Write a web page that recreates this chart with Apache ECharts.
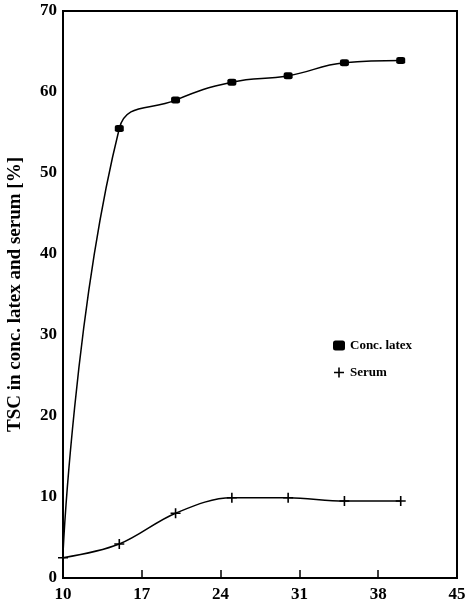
<!DOCTYPE html>
<html>
<head>
<meta charset="utf-8">
<script src="https://cdn.jsdelivr.net/npm/echarts@6/dist/echarts.min.js"></script>
<style>
  html, body { margin: 0; padding: 0; background: #fff; }
  #chart { width: 468px; height: 614px; }
</style>
</head>
<body>
<div id="chart"></div>
<script>
// time axis values
var days = [10, 15, 20, 25, 30, 35, 40]
// TSC values
var latex = [3, 55.5, 59.0, 61.2, 62.0, 63.6, 63.9]
var serum = [2.5, 4.2, 8.0, 9.9, 9.9, 9.5, 9.5]

var font = 'Liberation Serif'
var plus = 'path://M4.2,0h1.6v10h-1.6z M0,4.2h10v1.6h-10z'

function pairs(ys) {
    return days.map(function (d, i) { return [d, ys[i]] })
}

var chart = echarts.init(document.getElementById('chart'))

var latexData = pairs(latex)
// first point sits on the axis, no marker there
latexData[0] = { value: latexData[0], symbol: 'none' }

chart.setOption({
    animation: false,
    grid: {
        left: 63, right: 11, top: 11, bottom: 36,
        outerBoundsMode: 'none',
        show: true, borderColor: '#000', borderWidth: 2
    },
    legend: {
        orient: 'vertical',
        left: 328,
        top: 334,
        itemGap: 14,
        itemWidth: 12,
        itemHeight: 10,
        textStyle: { fontFamily: font, fontWeight: 'bold', fontSize: 13, color: '#000' },
        data: [
            { name: 'Conc. latex', icon: 'roundRect', itemStyle: { color: '#000' } },
            { name: 'Serum', icon: plus, itemStyle: { color: '#000' } }
        ]
    },
    xAxis: {
        type: 'value',
        min: 10, max: 45, interval: 7,
        axisLine: { lineStyle: { color: '#000', width: 2 } },
        axisTick: { inside: true, length: 8, lineStyle: { color: '#000', width: 1.5 } },
        splitLine: { show: false },
        axisLabel: { fontFamily: font, fontWeight: 'bold', fontSize: 17, color: '#000', margin: 8 }
    },
    yAxis: {
        type: 'value',
        min: 0, max: 70, interval: 10,
        name: 'TSC in conc. latex and serum [%]',
        nameLocation: 'middle',
        nameGap: 38,
        nameTextStyle: { fontFamily: font, fontWeight: 'bold', fontSize: 19, color: '#000' },
        axisLine: { lineStyle: { color: '#000', width: 2 } },
        axisTick: { show: false },
        splitLine: { show: false },
        axisLabel: { fontFamily: font, fontWeight: 'bold', fontSize: 17, color: '#000', margin: 6 }
    },
    series: [
        {
            name: 'Conc. latex',
            type: 'line',
            smooth: 0.45,
            data: latexData,
            symbol: 'roundRect',
            symbolSize: [9, 7],
            showAllSymbol: true,
            lineStyle: { color: '#000', width: 1.5 },
            itemStyle: { color: '#000' }
        },
        {
            name: 'Serum',
            type: 'line',
            smooth: 0.35,
            data: pairs(serum),
            symbol: plus,
            symbolSize: 10,
            lineStyle: { color: '#000', width: 1.5 },
            itemStyle: { color: '#000' }
        }
    ]
})
</script>
</body>
</html>
